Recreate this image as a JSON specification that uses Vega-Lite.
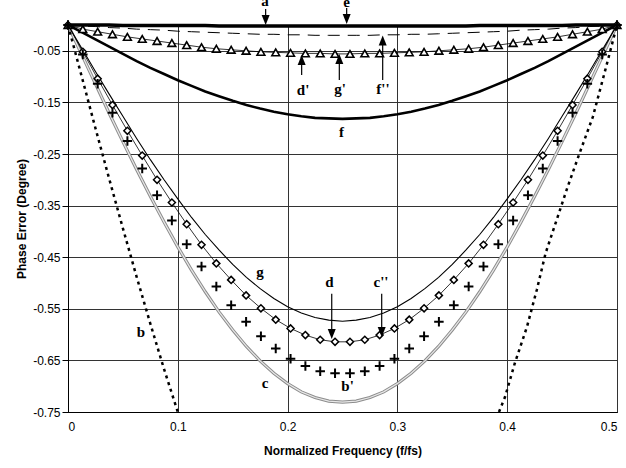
{
  "$schema": "https://vega.github.io/schema/vega-lite/v6.json",
  "width": 549,
  "height": 387,
  "autosize": {"type": "none"},
  "padding": {"left": 68, "top": 25, "right": 9, "bottom": 56},
  "background": "white",
  "config": {
    "view": {"stroke": "black", "strokeWidth": 1},
    "axis": {
      "labelFont": "Liberation Sans", "labelFontSize": 12, "labelColor": "black",
      "titleFont": "Liberation Sans", "titleFontSize": 12, "titleFontWeight": "bold", "titleColor": "black",
      "domainColor": "black", "tickColor": "black", "gridColor": "#333333", "gridWidth": 1, "gridOpacity": 1
    }
  },
  "datasets": {
    "lines": [
      {"x": 0, "a": 0, "dash": 0, "f": 0, "g": 0, "c": 0},
      {"x": 0.0125, "a": 0, "dash": -0.002, "f": -0.014, "g": -0.045, "c": -0.057},
      {"x": 0.025, "a": 0, "dash": -0.003, "f": -0.028, "g": -0.090, "c": -0.114},
      {"x": 0.0375, "a": 0, "dash": -0.005, "f": -0.042, "g": -0.134, "c": -0.171},
      {"x": 0.05, "a": -0.001, "dash": -0.006, "f": -0.056, "g": -0.177, "c": -0.226},
      {"x": 0.0625, "a": -0.001, "dash": -0.008, "f": -0.070, "g": -0.220, "c": -0.280},
      {"x": 0.075, "a": -0.001, "dash": -0.009, "f": -0.083, "g": -0.261, "c": -0.332},
      {"x": 0.0875, "a": -0.001, "dash": -0.010, "f": -0.095, "g": -0.300, "c": -0.382},
      {"x": 0.1, "a": -0.001, "dash": -0.012, "f": -0.107, "g": -0.337, "c": -0.430},
      {"x": 0.1125, "a": -0.001, "dash": -0.013, "f": -0.118, "g": -0.373, "c": -0.475},
      {"x": 0.125, "a": -0.001, "dash": -0.014, "f": -0.129, "g": -0.406, "c": -0.517},
      {"x": 0.1375, "a": -0.002, "dash": -0.015, "f": -0.138, "g": -0.436, "c": -0.556},
      {"x": 0.15, "a": -0.002, "dash": -0.016, "f": -0.147, "g": -0.464, "c": -0.591},
      {"x": 0.1625, "a": -0.002, "dash": -0.017, "f": -0.155, "g": -0.489, "c": -0.623},
      {"x": 0.175, "a": -0.002, "dash": -0.018, "f": -0.162, "g": -0.511, "c": -0.651},
      {"x": 0.1875, "a": -0.002, "dash": -0.018, "f": -0.168, "g": -0.530, "c": -0.675},
      {"x": 0.2, "a": -0.002, "dash": -0.019, "f": -0.173, "g": -0.546, "c": -0.695},
      {"x": 0.2125, "a": -0.002, "dash": -0.019, "f": -0.177, "g": -0.558, "c": -0.711},
      {"x": 0.225, "a": -0.002, "dash": -0.020, "f": -0.180, "g": -0.567, "c": -0.722},
      {"x": 0.2375, "a": -0.002, "dash": -0.020, "f": -0.181, "g": -0.572, "c": -0.729},
      {"x": 0.25, "a": -0.002, "dash": -0.020, "f": -0.182, "g": -0.574, "c": -0.731},
      {"x": 0.2625, "a": -0.002, "dash": -0.020, "f": -0.181, "g": -0.572, "c": -0.729},
      {"x": 0.275, "a": -0.002, "dash": -0.020, "f": -0.180, "g": -0.567, "c": -0.722},
      {"x": 0.2875, "a": -0.002, "dash": -0.019, "f": -0.177, "g": -0.558, "c": -0.711},
      {"x": 0.3, "a": -0.002, "dash": -0.019, "f": -0.173, "g": -0.546, "c": -0.695},
      {"x": 0.3125, "a": -0.002, "dash": -0.018, "f": -0.168, "g": -0.530, "c": -0.675},
      {"x": 0.325, "a": -0.002, "dash": -0.018, "f": -0.162, "g": -0.511, "c": -0.651},
      {"x": 0.3375, "a": -0.002, "dash": -0.017, "f": -0.155, "g": -0.489, "c": -0.623},
      {"x": 0.35, "a": -0.002, "dash": -0.016, "f": -0.147, "g": -0.464, "c": -0.591},
      {"x": 0.3625, "a": -0.002, "dash": -0.015, "f": -0.138, "g": -0.436, "c": -0.556},
      {"x": 0.375, "a": -0.001, "dash": -0.014, "f": -0.129, "g": -0.406, "c": -0.517},
      {"x": 0.3875, "a": -0.001, "dash": -0.013, "f": -0.118, "g": -0.373, "c": -0.475},
      {"x": 0.4, "a": -0.001, "dash": -0.012, "f": -0.107, "g": -0.337, "c": -0.430},
      {"x": 0.4125, "a": -0.001, "dash": -0.010, "f": -0.095, "g": -0.300, "c": -0.382},
      {"x": 0.425, "a": -0.001, "dash": -0.009, "f": -0.083, "g": -0.261, "c": -0.332},
      {"x": 0.4375, "a": -0.001, "dash": -0.008, "f": -0.070, "g": -0.220, "c": -0.280},
      {"x": 0.45, "a": -0.001, "dash": -0.006, "f": -0.056, "g": -0.177, "c": -0.226},
      {"x": 0.4625, "a": 0, "dash": -0.005, "f": -0.042, "g": -0.134, "c": -0.171},
      {"x": 0.475, "a": 0, "dash": -0.003, "f": -0.028, "g": -0.090, "c": -0.114},
      {"x": 0.4875, "a": 0, "dash": -0.002, "f": -0.014, "g": -0.045, "c": -0.057},
      {"x": 0.5, "a": 0, "dash": 0, "f": 0, "g": 0, "c": 0}
    ],
    "markers": [
      {"x": 0, "d": 0, "p": 0, "t": 0},
      {"x": 0.0135, "d": -0.052, "p": -0.057, "t": -0.008},
      {"x": 0.027, "d": -0.104, "p": -0.114, "t": -0.013},
      {"x": 0.0405, "d": -0.155, "p": -0.170, "t": -0.018},
      {"x": 0.0541, "d": -0.205, "p": -0.225, "t": -0.023},
      {"x": 0.0676, "d": -0.253, "p": -0.278, "t": -0.027},
      {"x": 0.0811, "d": -0.300, "p": -0.330, "t": -0.031},
      {"x": 0.0946, "d": -0.344, "p": -0.379, "t": -0.035},
      {"x": 0.1081, "d": -0.386, "p": -0.425, "t": -0.039},
      {"x": 0.1216, "d": -0.426, "p": -0.468, "t": -0.043},
      {"x": 0.1351, "d": -0.462, "p": -0.507, "t": -0.046},
      {"x": 0.1486, "d": -0.494, "p": -0.543, "t": -0.048},
      {"x": 0.1622, "d": -0.524, "p": -0.575, "t": -0.050},
      {"x": 0.1757, "d": -0.549, "p": -0.603, "t": -0.052},
      {"x": 0.1892, "d": -0.571, "p": -0.627, "t": -0.053},
      {"x": 0.2027, "d": -0.588, "p": -0.647, "t": -0.054},
      {"x": 0.2162, "d": -0.601, "p": -0.661, "t": -0.055},
      {"x": 0.2297, "d": -0.610, "p": -0.671, "t": -0.055},
      {"x": 0.2432, "d": -0.614, "p": -0.675, "t": -0.056},
      {"x": 0.2568, "d": -0.614, "p": -0.675, "t": -0.056},
      {"x": 0.2703, "d": -0.610, "p": -0.671, "t": -0.055},
      {"x": 0.2838, "d": -0.601, "p": -0.661, "t": -0.055},
      {"x": 0.2973, "d": -0.588, "p": -0.647, "t": -0.054},
      {"x": 0.3108, "d": -0.571, "p": -0.627, "t": -0.053},
      {"x": 0.3243, "d": -0.549, "p": -0.603, "t": -0.052},
      {"x": 0.3378, "d": -0.524, "p": -0.575, "t": -0.050},
      {"x": 0.3514, "d": -0.494, "p": -0.543, "t": -0.048},
      {"x": 0.3649, "d": -0.462, "p": -0.507, "t": -0.046},
      {"x": 0.3784, "d": -0.426, "p": -0.468, "t": -0.043},
      {"x": 0.3919, "d": -0.386, "p": -0.425, "t": -0.039},
      {"x": 0.4054, "d": -0.344, "p": -0.379, "t": -0.035},
      {"x": 0.4189, "d": -0.300, "p": -0.330, "t": -0.031},
      {"x": 0.4324, "d": -0.253, "p": -0.278, "t": -0.027},
      {"x": 0.4459, "d": -0.205, "p": -0.225, "t": -0.023},
      {"x": 0.4595, "d": -0.155, "p": -0.170, "t": -0.018},
      {"x": 0.473, "d": -0.104, "p": -0.114, "t": -0.013},
      {"x": 0.4865, "d": -0.052, "p": -0.057, "t": -0.008},
      {"x": 0.5, "d": 0, "p": 0, "t": 0}
    ],
    "bline": [
      {"seg": "L", "x": 0, "y": 0},
      {"seg": "L", "x": 0.0125, "y": -0.100},
      {"seg": "L", "x": 0.025, "y": -0.200},
      {"seg": "L", "x": 0.0375, "y": -0.298},
      {"seg": "L", "x": 0.05, "y": -0.394},
      {"seg": "L", "x": 0.0625, "y": -0.488},
      {"seg": "L", "x": 0.075, "y": -0.579},
      {"seg": "L", "x": 0.0875, "y": -0.667},
      {"seg": "L", "x": 0.1, "y": -0.75},
      {"seg": "R", "x": 0.3925, "y": -0.75},
      {"seg": "R", "x": 0.398, "y": -0.721},
      {"seg": "R", "x": 0.407, "y": -0.655},
      {"seg": "R", "x": 0.418, "y": -0.585},
      {"seg": "R", "x": 0.427, "y": -0.513},
      {"seg": "R", "x": 0.435, "y": -0.442},
      {"seg": "R", "x": 0.445, "y": -0.378},
      {"seg": "R", "x": 0.455, "y": -0.314},
      {"seg": "R", "x": 0.466, "y": -0.248},
      {"seg": "R", "x": 0.478, "y": -0.178},
      {"seg": "R", "x": 0.489, "y": -0.090},
      {"seg": "R", "x": 0.5, "y": 0}
    ],
    "arrows": [
      {"id": "a", "x": 0.180, "tail": 0.031, "head": 0.0097, "dir": "down"},
      {"id": "e", "x": 0.2538, "tail": 0.033, "head": 0.0116, "dir": "down"},
      {"id": "d'", "x": 0.2128, "tail": -0.097, "head": -0.068, "dir": "up"},
      {"id": "g'", "x": 0.2471, "tail": -0.1066, "head": -0.066, "dir": "up"},
      {"id": "f''", "x": 0.2866, "tail": -0.1066, "head": -0.030, "dir": "up"},
      {"id": "d", "x": 0.2402, "tail": -0.521, "head": -0.599, "dir": "down"},
      {"id": "c''", "x": 0.2857, "tail": -0.521, "head": -0.595, "dir": "down"}
    ],
    "labels": [
      {"x": 0.1794, "y": 0.036, "t": "a"},
      {"x": 0.2538, "y": 0.034, "t": "e"},
      {"x": 0.2141, "y": -0.135, "t": "d'"},
      {"x": 0.2477, "y": -0.133, "t": "g'"},
      {"x": 0.2869, "y": -0.133, "t": "f''"},
      {"x": 0.249, "y": -0.2165, "t": "f"},
      {"x": 0.1749, "y": -0.4875, "t": "g"},
      {"x": 0.238, "y": -0.507, "t": "d"},
      {"x": 0.2851, "y": -0.507, "t": "c''"},
      {"x": 0.1794, "y": -0.703, "t": "c"},
      {"x": 0.2546, "y": -0.710, "t": "b'"},
      {"x": 0.0665, "y": -0.604, "t": "b"}
    ]
  },
  "encoding": {
    "x": {
      "field": "x", "type": "quantitative",
      "scale": {"domain": [0, 0.5], "nice": false, "zero": false},
      "axis": {
        "values": [0, 0.1, 0.2, 0.3, 0.4, 0.5], "format": ".1~f",
        "title": "Normalized Frequency (f/fs)", "tickSize": 0, "labelPadding": 9, "titlePadding": 13, "grid": true
      }
    },
    "y": {
      "field": "v", "type": "quantitative",
      "scale": {"domain": [-0.75, 0], "nice": false, "zero": false},
      "axis": {
        "values": [-0.05, -0.15, -0.25, -0.35, -0.45, -0.55, -0.65, -0.75],
        "labelExpr": "replace(format(datum.value, '.2f'), '\u2212', '-')",
        "title": "Phase Error (Degree)", "tickSize": 6, "labelPadding": 2, "titlePadding": 4, "grid": true
      }
    }
  },
  "layer": [
    {
      "data": {"name": "lines"},
      "transform": [{"fold": ["c"], "as": ["k", "v"]}],
      "mark": {"type": "line", "color": "#8c8c8c", "strokeWidth": 3.2}
    },
    {
      "data": {"name": "lines"},
      "transform": [{"fold": ["c"], "as": ["k", "v"]}],
      "mark": {"type": "line", "color": "#e8e8e8", "strokeWidth": 1.2}
    },
    {
      "data": {"name": "lines"},
      "transform": [{"fold": ["g"], "as": ["k", "v"]}],
      "mark": {"type": "line", "color": "black", "strokeWidth": 1.1}
    },
    {
      "data": {"name": "lines"},
      "transform": [{"fold": ["f"], "as": ["k", "v"]}],
      "mark": {"type": "line", "color": "black", "strokeWidth": 2.6}
    },
    {
      "data": {"name": "lines"},
      "transform": [{"fold": ["dash"], "as": ["k", "v"]}],
      "mark": {"type": "line", "color": "black", "strokeWidth": 1, "strokeDash": [12, 8]}
    },
    {
      "data": {"name": "lines"},
      "transform": [{"fold": ["a"], "as": ["k", "v"]}],
      "mark": {"type": "line", "color": "black", "strokeWidth": 3.5}
    },
    {
      "data": {"name": "markers"},
      "transform": [{"fold": ["t"], "as": ["k", "v"]}],
      "mark": {"type": "line", "color": "black", "strokeWidth": 0.8}
    },
    {
      "data": {"name": "markers"},
      "transform": [{"fold": ["t"], "as": ["k", "v"]}],
      "mark": {"type": "point", "shape": "triangle-up", "filled": true, "fill": "white", "stroke": "black", "strokeWidth": 1.6, "size": 60, "opacity": 1}
    },
    {
      "data": {"name": "markers"},
      "transform": [{"fold": ["d"], "as": ["k", "v"]}],
      "mark": {"type": "line", "color": "black", "strokeWidth": 0.8}
    },
    {
      "data": {"name": "markers"},
      "transform": [{"fold": ["d"], "as": ["k", "v"]}],
      "mark": {"type": "point", "shape": "diamond", "filled": true, "fill": "white", "stroke": "black", "strokeWidth": 1.5, "size": 50, "opacity": 1}
    },
    {
      "data": {"name": "markers"},
      "transform": [{"fold": ["p"], "as": ["k", "v"]}],
      "mark": {"type": "point", "shape": "M-1,0L1,0M0,-1L0,1", "filled": false, "stroke": "black", "strokeWidth": 2, "size": 90, "opacity": 1}
    },
    {
      "data": {"name": "bline"},
      "transform": [{"fold": ["y"], "as": ["k", "v"]}],
      "mark": {"type": "line", "color": "black", "strokeWidth": 2.5, "strokeDash": [3, 4]},
      "encoding": {"detail": {"field": "seg", "type": "nominal"}}
    },
    {
      "data": {"name": "arrows"},
      "transform": [{"fold": ["tail"], "as": ["k", "v"]}],
      "mark": {"type": "rule", "color": "black", "strokeWidth": 1.2},
      "encoding": {"y2": {"field": "head"}}
    },
    {
      "data": {"name": "arrows"},
      "transform": [{"fold": ["head"], "as": ["k", "v"]}],
      "mark": {"type": "point", "filled": true, "color": "black", "size": 100, "opacity": 1},
      "encoding": {
        "shape": {"field": "dir", "type": "nominal", "scale": {"domain": ["down", "up"], "range": ["M-0.8,-1L0.8,-1L0,1Z", "M-0.8,1L0.8,1L0,-1Z"]}, "legend": null}
      }
    },
    {
      "data": {"name": "labels"},
      "transform": [{"fold": ["y"], "as": ["k", "v"]}],
      "mark": {"type": "text", "font": "Liberation Serif", "fontWeight": "bold", "fontSize": 15, "color": "black", "align": "center", "baseline": "alphabetic"},
      "encoding": {"text": {"field": "t", "type": "nominal"}}
    }
  ]
}
